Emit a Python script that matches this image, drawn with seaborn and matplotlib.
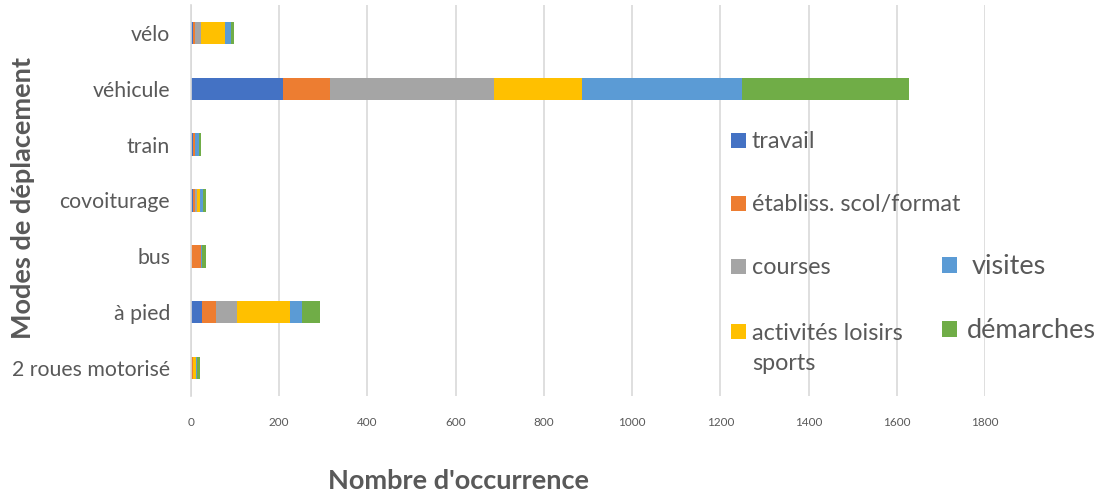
import matplotlib
matplotlib.use("Agg")
import matplotlib.pyplot as plt
from matplotlib.patches import Patch
import numpy as np
import pandas as pd
import seaborn as sns

categories = ["vélo", "véhicule", "train", "covoiturage", "bus", "à pied", "2 roues motorisé"]
series_names = ["travail", "établiss. scol/format", "courses", "activités loisirs sports", "visites", "démarches"]
travail = [5, 209, 5, 4, 0, 25, 0]
etablissement = [5, 107, 3, 5, 23, 32, 4]
courses = [12, 370, 1, 4, 0, 47, 0]
loisirs = [54, 200, 1, 8, 0, 120, 8]
visites = [15, 363, 8, 6, 1, 28, 2]
demarches = [6, 378, 5, 6, 9, 40, 7]
x_ticks = [0, 200, 400, 600, 800, 1000, 1200, 1400, 1600, 1800]

colors = ["#4472C4", "#ED7D31", "#A5A5A5", "#FFC000", "#5B9BD5", "#70AD47"]
values = [travail, etablissement, courses, loisirs, visites, demarches]

sns.set_theme(style="white")
plt.rcParams["font.family"] = ["Lato", "DejaVu Sans"]

fig = plt.figure(figsize=(11.13, 5.01), dpi=100)
ax = fig.add_axes([191 / 1113, 1 - 396 / 501, (985 - 191) / 1113, (396 - 5) / 501])

cum = np.cumsum(np.array(values), axis=0)
for i in range(len(values) - 1, -1, -1):
    df = pd.DataFrame({"cat": categories, "val": cum[i]})
    sns.barplot(data=df, x="val", y="cat", order=categories, orient="h",
                color=colors[i], saturation=1, width=0.4, linewidth=0, ax=ax)

ax.set_xlim(0, 1800)
ax.set_ylim(6.5, -0.5)
ax.set_xticks(x_ticks)
ax.set_xticklabels([str(t) for t in x_ticks])
ax.set_xlabel("")
ax.set_ylabel("")
ax.xaxis.grid(True, color="#d9d9d9", linewidth=1.2)
ax.yaxis.grid(False)
ax.set_axisbelow(True)
for s in ["top", "right", "bottom"]:
    ax.spines[s].set_visible(False)
ax.spines["left"].set_color("#d9d9d9")
ax.spines["left"].set_linewidth(1.2)
ax.tick_params(axis="x", length=0, pad=15, labelsize=8.5, labelcolor="#595959")
ax.tick_params(axis="y", which="major", length=0, pad=15, labelsize=15.3, labelcolor="#595959")
ax.set_yticks(np.arange(-0.5, 7.0, 1.0), minor=True)
ax.tick_params(axis="y", which="minor", length=6, width=1.2, color="#d9d9d9", direction="out")

# legends
def add_entry(label, color, xpix, ypix, size, hl, pad):
    leg = fig.legend(handles=[Patch(facecolor=color, edgecolor="none", label=label)],
                     loc="center left", bbox_to_anchor=(xpix / 1113, 1 - ypix / 501),
                     frameon=False, fontsize=size, handlelength=hl, handleheight=hl,
                     handletextpad=pad, borderpad=0, borderaxespad=0)
    for t in leg.get_texts():
        t.set_color("#595959")
    return leg

add_entry(series_names[0], colors[0], 731, 142, 16.8, 0.65, 0.25)
add_entry(series_names[1], colors[1], 731, 205, 16.8, 0.65, 0.25)
add_entry(series_names[2], colors[2], 731, 268, 16.8, 0.65, 0.25)
add_entry("activités loisirs", colors[3], 731, 333, 16.8, 0.65, 0.25)
fig.text(752 / 1113, 1 - 363 / 501, "sports", fontsize=16.8, color="#595959",
         ha="left", va="center")
add_entry(series_names[4], colors[4], 942, 267, 19.5, 0.56, 0.55)
add_entry(series_names[5], colors[5], 942, 331, 19.5, 0.56, 0.35)

fig.text(23 / 1113, 1 - 198 / 501, "Modes de déplacement", rotation=90, fontsize=19.5,
         fontweight="bold", color="#595959", ha="center", va="center")
fig.text(458 / 1113, 1 - 481 / 501, "Nombre d'occurrence", fontsize=19.5,
         fontweight="bold", color="#595959", ha="center", va="center")

fig.savefig("out.png", dpi=100)
